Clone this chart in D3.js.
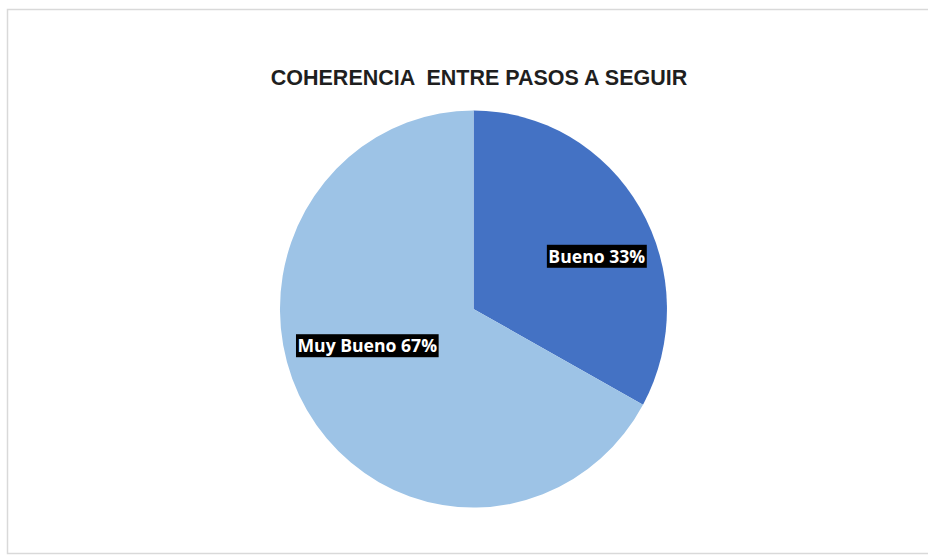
<!DOCTYPE html>
<html>
<head>
<meta charset="utf-8">
<script src="https://cdn.jsdelivr.net/npm/d3@7"></script>
<style>
  html, body { margin: 0; padding: 0; background: #ffffff; }
  svg { display: block; }
</style>
</head>
<body>
<svg id="chart" width="928" height="558"></svg>
<script>
// Chart data
const categories = ["Bueno", "Muy Bueno"];
const values = [33, 67];
const sliceColors = ["#4472C4", "#9DC3E6"];
const chartTitle = "COHERENCIA  ENTRE PASOS A SEGUIR";

// Layout
const W = 928, H = 558;
const cx = 473.5, cy = 309;
const rx = 193.5, ry = 198.5;
// fine placement of each slice's label relative to its centroid
const labelShift = [[10, 16], [7, -32]];

const svg = d3.select("#chart");

// chart area frame
svg.append("rect")
  .attr("x", 7.5).attr("y", 9.5)
  .attr("width", W + 10).attr("height", 544)
  .attr("fill", "#ffffff")
  .attr("stroke", "#d9d9d9")
  .attr("stroke-width", 1.5);

// title
svg.append("text")
  .attr("x", 479).attr("y", 85)
  .attr("text-anchor", "middle")
  .attr("font-family", "Liberation Sans, Arial, sans-serif")
  .attr("font-weight", "bold")
  .attr("font-size", 21.5)
  .attr("fill", "#1f1f1f")
  .style("white-space", "pre")
  .text(chartTitle);

const pie = d3.pie().sort(null).value(d => d)(values);
const arc = d3.arc().innerRadius(0).outerRadius(1);

// slices drawn on a unit circle, stretched to the plot size
const g = svg.append("g")
  .attr("transform", `translate(${cx},${cy}) scale(${rx},${ry})`);

g.selectAll("path")
  .data(pie)
  .join("path")
  .attr("d", arc)
  .attr("fill", (d, i) => sliceColors[i]);

// data labels
const labelArc = d3.arc().innerRadius(0.68).outerRadius(0.68);
const labels = svg.append("g");

pie.forEach((d, i) => {
  const [ux, uy] = labelArc.centroid(d);
  const x = cx + ux * rx + labelShift[i][0];
  const y = cy + uy * ry + labelShift[i][1];
  const lg = labels.append("g").attr("transform", `translate(${x},${y})`);
  const t = lg.append("text")
    .attr("text-anchor", "middle")
    .attr("dy", "0.36em")
    .attr("font-family", "Open Sans, Liberation Sans, sans-serif")
    .attr("font-weight", "bold")
    .attr("font-size", 17.6)
    .attr("fill", "#ffffff")
    .text(`${categories[i]} ${Math.round(values[i])}%`);
  const bb = t.node().getBBox();
  lg.insert("rect", "text")
    .attr("x", bb.x - 1.5).attr("y", -11.5)
    .attr("width", bb.width + 3).attr("height", 23)
    .attr("fill", "#000000");
});
</script>
</body>
</html>
